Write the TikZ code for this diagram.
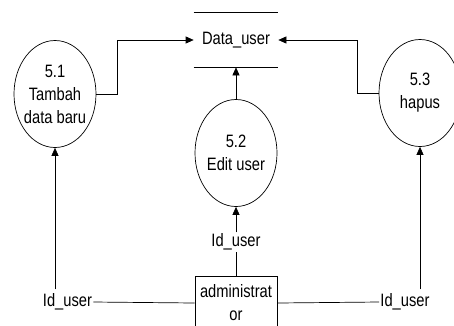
\documentclass[tikz,border=0pt]{standalone}
\usepackage{fontspec}
\setmainfont{Liberation Sans}[FakeStretch=0.82]
\usetikzlibrary{arrows.meta,shapes.geometric}

\begin{document}
\begin{tikzpicture}[x=1bp,y=-1bp,
    every node/.style={font=\fontsize{18}{23}\selectfont},
    proc/.style={draw,ellipse,minimum width=82bp,minimum height=107bp,inner sep=-3pt,align=center},
    ent/.style={draw,rectangle,minimum width=82bp,minimum height=54bp,align=center,inner sep=1pt},
    lbl/.style={inner sep=1pt},
    flow/.style={-{Triangle[length=8bp,width=7bp]}},
    line width=0.7bp]
    \useasboundingbox (0,0) rectangle (454,325);
    % data store
    \node[minimum width=84bp,minimum height=54bp] (store) at (236,40) {Data\_user};
    \draw (store.north west) -- (store.north east);
    \draw (store.south west) -- (store.south east);
    % processes
    \node[proc] (p51) at (55,94) {5.1\\Tambah\\data baru};
    \node[proc] (p52) at (236,153) {5.2\\Edit user};
    \node[proc] (p53) at (420,93) {5.3\\hapus};
    % external entity
    \node[ent] (admin) at (236,303) {administrat\\or};
    % flow labels
    \node[lbl] (id1) at (67.5,302) {Id\_user};
    \node[lbl] (id2) at (236,242) {Id\_user};
    \node[lbl] (id3) at (405,302) {Id\_user};
    % flows
    \draw[flow] (p51.east) -- ++(21,0) |- (store.west);
    \draw[flow] (p53.west) -- ++(-21,0) |- (store.east);
    \draw[flow] (p52.north) -- (store.south);
    \draw[flow] (id2.north) -- (p52.south);
    \draw (admin.north) -- (id2.south);
    \draw (id1.east) -- (admin.west);
    \draw (admin.east) -- (id3.west);
    \draw[flow,shorten <=3bp] (id1.north -| p51.south) -- (p51.south);
    \draw[flow,shorten <=3bp] (id3.north -| p53.south) -- (p53.south);
\end{tikzpicture}
\end{document}
